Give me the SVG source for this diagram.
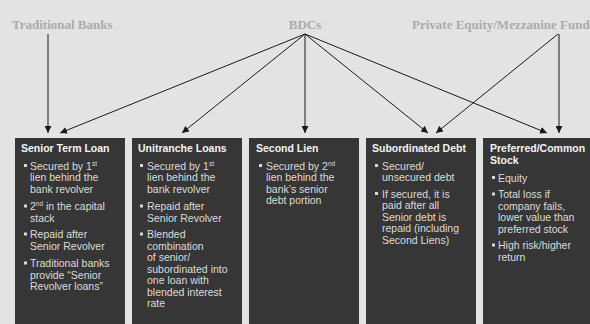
<svg xmlns="http://www.w3.org/2000/svg" width="590" height="324" viewBox="0 0 590 324">
<defs>
<marker id="ah" viewBox="0 0 10 10" refX="10" refY="5" markerWidth="7" markerHeight="7" markerUnits="userSpaceOnUse" orient="auto">
<path d="M0,0 L10,5 L0,10 z" fill="#1a1a1a"/>
</marker>
<style>
.bg{fill:#e3e3e3}
.box{fill:#363636}
.src{font-family:"Liberation Serif","DejaVu Serif",serif;font-size:13px;font-weight:bold;fill:#ababab}
.hd{font-family:"Liberation Sans",Arial,sans-serif;font-size:10.5px;font-weight:bold;fill:#f4f4f4}
.tx{font-family:"Liberation Sans",Arial,sans-serif;font-size:10.5px;fill:#dcdcdc}
.sup{font-size:6.5px}
.bl{fill:#d8d8d8}
.cn line{stroke:#1a1a1a;stroke-width:1;marker-end:url(#ah)}
</style>
</defs>
<rect class="bg" x="0" y="0" width="590" height="324"/>

<g id="src-banks"><text class="src" x="12" y="29">Traditional Banks</text></g>
<g id="src-bdcs"><text class="src" x="305" y="29" text-anchor="middle">BDCs</text></g>
<g id="src-pe"><text class="src" x="412" y="29">Private Equity/Mezzanine Fund</text></g>

<g id="connectors" class="cn">
<line x1="48" y1="34" x2="48" y2="133"/>
<line x1="305" y1="34" x2="60" y2="133"/>
<line x1="305" y1="34" x2="182" y2="133"/>
<line x1="305" y1="34" x2="305" y2="133"/>
<line x1="305" y1="34" x2="428" y2="133"/>
<line x1="305" y1="34" x2="547" y2="133"/>
<line x1="558" y1="34" x2="436" y2="133"/>
<line x1="559" y1="34" x2="559" y2="133"/>
</g>

<g id="box-senior-term">
<rect class="box" x="15" y="138" width="110" height="186"/>
<text class="hd" x="21" y="152">Senior Term Loan</text>
<rect class="bl" x="24" y="164" width="3" height="3"/>
<text class="tx" x="30" y="169.5">Secured by 1<tspan class="sup" dy="-4">st</tspan></text>
<text class="tx" x="30" y="181">lien behind the</text>
<text class="tx" x="30" y="192.5">bank revolver</text>
<rect class="bl" x="24" y="204.5" width="3" height="3"/>
<text class="tx" x="30" y="210">2<tspan class="sup" dy="-4">nd</tspan><tspan dy="4"> in the capital</tspan></text>
<text class="tx" x="30" y="221.5">stack</text>
<rect class="bl" x="24" y="232.5" width="3" height="3"/>
<text class="tx" x="30" y="238">Repaid after</text>
<text class="tx" x="30" y="249.5">Senior Revolver</text>
<rect class="bl" x="24" y="261.5" width="3" height="3"/>
<text class="tx" x="30" y="267">Traditional banks</text>
<text class="tx" x="30" y="278.5">provide “Senior</text>
<text class="tx" x="30" y="290">Revolver loans”</text>
</g>

<g id="box-unitranche">
<rect class="box" x="132" y="138" width="110" height="186"/>
<text class="hd" x="138" y="152">Unitranche Loans</text>
<rect class="bl" x="140" y="164" width="3" height="3"/>
<text class="tx" x="147" y="169.5">Secured by 1<tspan class="sup" dy="-4">st</tspan></text>
<text class="tx" x="147" y="181">lien behind the</text>
<text class="tx" x="147" y="192.5">bank revolver</text>
<rect class="bl" x="140" y="204.5" width="3" height="3"/>
<text class="tx" x="147" y="210">Repaid after</text>
<text class="tx" x="147" y="221.5">Senior Revolver</text>
<rect class="bl" x="140" y="232.5" width="3" height="3"/>
<text class="tx" x="147" y="238">Blended</text>
<text class="tx" x="147" y="249.5">combination</text>
<text class="tx" x="147" y="261">of senior/</text>
<text class="tx" x="147" y="272.5">subordinated into</text>
<text class="tx" x="147" y="284">one loan with</text>
<text class="tx" x="147" y="295.5">blended interest</text>
<text class="tx" x="147" y="307">rate</text>
</g>

<g id="box-second-lien">
<rect class="box" x="249" y="138" width="110" height="186"/>
<text class="hd" x="256" y="152">Second Lien</text>
<rect class="bl" x="259" y="164" width="3" height="3"/>
<text class="tx" x="266" y="169.5">Secured by 2<tspan class="sup" dy="-4">nd</tspan></text>
<text class="tx" x="266" y="181">lien behind the</text>
<text class="tx" x="266" y="192.5">bank’s senior</text>
<text class="tx" x="266" y="204">debt portion</text>
</g>

<g id="box-subordinated">
<rect class="box" x="366" y="138" width="110" height="186"/>
<text class="hd" x="372" y="152">Subordinated Debt</text>
<rect class="bl" x="375" y="164" width="3" height="3"/>
<text class="tx" x="382" y="169.5">Secured/</text>
<text class="tx" x="382" y="181">unsecured debt</text>
<rect class="bl" x="375" y="192" width="3" height="3"/>
<text class="tx" x="382" y="197.5">If secured, it is</text>
<text class="tx" x="382" y="209">paid after all</text>
<text class="tx" x="382" y="220.5">Senior debt is</text>
<text class="tx" x="382" y="232">repaid (including</text>
<text class="tx" x="382" y="243.5">Second Liens)</text>
</g>

<g id="box-preferred">
<rect class="box" x="483" y="138" width="110" height="186"/>
<text class="hd" x="490" y="152">Preferred/Common</text>
<text class="hd" x="490" y="163.5">Stock</text>
<rect class="bl" x="492" y="176" width="3" height="3"/>
<text class="tx" x="498" y="181.5">Equity</text>
<rect class="bl" x="492" y="192.5" width="3" height="3"/>
<text class="tx" x="498" y="198">Total loss if</text>
<text class="tx" x="498" y="209.5">company fails,</text>
<text class="tx" x="498" y="221">lower value than</text>
<text class="tx" x="498" y="232.5">preferred stock</text>
<rect class="bl" x="492" y="243.5" width="3" height="3"/>
<text class="tx" x="498" y="249">High risk/higher</text>
<text class="tx" x="498" y="260.5">return</text>
</g>
</svg>
